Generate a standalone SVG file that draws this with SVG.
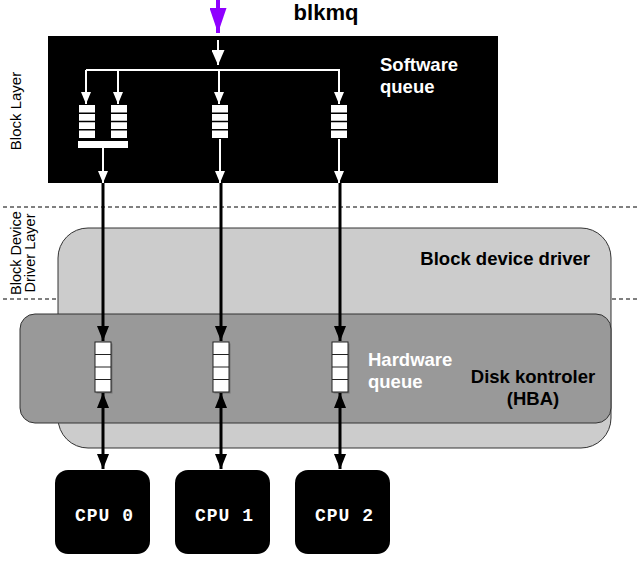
<svg xmlns="http://www.w3.org/2000/svg" width="639" height="564" viewBox="0 0 639 564">
<defs>
<style>
.lbl{font-family:"Liberation Sans",Arial,sans-serif;font-weight:bold;font-size:18.5px}
.side{font-family:"Liberation Sans",Arial,sans-serif;font-size:14.5px;fill:#000}
.cpu{font-family:"Liberation Mono","Courier New",monospace;font-weight:bold;font-size:18px;letter-spacing:1px;fill:#fff}
.dash{stroke:#000;stroke-width:1;stroke-dasharray:4 3}
.wline{stroke:#fff;stroke-width:2;fill:none}
.bline{stroke:#000;stroke-width:3;fill:none}
</style>
<marker id="wab" viewBox="0 0 10 10" refX="10" refY="5" markerWidth="12" markerHeight="10" preserveAspectRatio="none" orient="auto" markerUnits="userSpaceOnUse"><path d="M0,0 L10,5 L0,10 z" fill="#fff"/></marker>
<marker id="wat" viewBox="0 0 10 10" refX="10" refY="5" markerWidth="15" markerHeight="13" preserveAspectRatio="none" orient="auto" markerUnits="userSpaceOnUse"><path d="M0,0 L10,5 L0,10 z" fill="#fff"/></marker>
<marker id="ba" viewBox="0 0 10 10" refX="10" refY="5" markerWidth="15" markerHeight="12" preserveAspectRatio="none" orient="auto" markerUnits="userSpaceOnUse"><path d="M0,0 L10,5 L0,10 z" fill="#000"/></marker>
<marker id="bas" viewBox="0 0 10 10" refX="10" refY="5" markerWidth="15" markerHeight="12" preserveAspectRatio="none" orient="auto-start-reverse" markerUnits="userSpaceOnUse"><path d="M0,0 L10,5 L0,10 z" fill="#000"/></marker>
<marker id="pa" viewBox="0 0 10 10" refX="10" refY="5" markerWidth="25" markerHeight="17" preserveAspectRatio="none" orient="auto" markerUnits="userSpaceOnUse"><path d="M0,0 L10,5 L0,10 z" fill="#8f00ff"/></marker>
<g id="swq"><rect x="0" y="0" width="16" height="33" fill="#fff"/><path d="M0,8.25H16M0,16.5H16M0,24.75H16" stroke="#000" stroke-width="1.5"/></g>
<g id="hwq"><rect x="1.5" y="1.5" width="16" height="50" fill="#555" opacity="0.5"/><rect x="0" y="0" width="16" height="50" fill="#fff" stroke="#222" stroke-width="1"/><path d="M0,12.5H16M0,25H16M0,37.5H16" stroke="#222" stroke-width="1"/></g>
</defs>
<rect width="639" height="564" fill="#fff"/>

<g id="dividers">
<line class="dash" x1="3" y1="207" x2="639" y2="207"/>
<line class="dash" x1="3" y1="299" x2="639" y2="299"/>
</g>
<g id="layer-labels">
<text class="side" transform="translate(21,111) rotate(-90)" text-anchor="middle" style="font-size:15px">Block Layer</text>
<text class="side" transform="translate(21,253) rotate(-90)" text-anchor="middle">Block Device</text>
<text class="side" transform="translate(35,253) rotate(-90)" text-anchor="middle">Driver Layer</text>
</g>

<g id="block-device-driver">
<rect x="58" y="228" width="553" height="220" rx="30" fill="#cccccc" stroke="#333" stroke-width="1"/>
<text class="lbl" x="590" y="265" text-anchor="end" fill="#000">Block device driver</text>
</g>

<g id="disk-controller">
<rect x="20" y="314" width="591" height="109" rx="15" fill="#999999" stroke="#333" stroke-width="1"/>
<text class="lbl" x="533" y="383" text-anchor="middle" fill="#000">Disk kontroler</text>
<text class="lbl" x="533" y="405" text-anchor="middle" fill="#000">(HBA)</text>
<text class="lbl" x="368" y="366" fill="#fff">Hardware</text>
<text class="lbl" x="368" y="388" fill="#fff">queue</text>
</g>

<g id="block-layer">
<rect x="48" y="36" width="450" height="147" fill="#000"/>
<text class="lbl" x="380" y="71" fill="#fff">Software</text>
<text class="lbl" x="380" y="93" fill="#fff">queue</text>
</g>

<g id="blkmq">
<text class="lbl" x="326" y="20" text-anchor="middle" fill="#000" style="font-size:22px">blkmq</text>
</g>

<g id="software-queues">
<use href="#swq" x="79" y="105"/>
<use href="#swq" x="111" y="105"/>
<use href="#swq" x="212" y="105"/>
<use href="#swq" x="331" y="105"/>
<rect x="78" y="141" width="50" height="7" fill="#fff"/>
</g>

<g id="hardware-queues">
<use href="#hwq" x="95" y="342"/>
<use href="#hwq" x="213" y="342"/>
<use href="#hwq" x="332" y="342"/>
</g>

<g id="cpu0"><rect x="55" y="470" width="95" height="84" rx="13" fill="#000"/><text class="cpu" x="75" y="521">CPU 0</text></g>
<g id="cpu1"><rect x="175" y="470" width="95" height="84" rx="13" fill="#000"/><text class="cpu" x="195" y="521">CPU 1</text></g>
<g id="cpu2"><rect x="295" y="470" width="95" height="84" rx="13" fill="#000"/><text class="cpu" x="315" y="521">CPU 2</text></g>

<g id="connectors">
<line x1="218" y1="0" x2="218" y2="33" stroke="#8f00ff" stroke-width="4" marker-end="url(#pa)"/>
<line class="wline" x1="218" y1="40" x2="218" y2="65" marker-end="url(#wat)"/>
<path class="wline" d="M86,70H340"/>
<line class="wline" x1="86" y1="70" x2="86" y2="104" marker-end="url(#wab)"/>
<line class="wline" x1="118" y1="70" x2="118" y2="104" marker-end="url(#wab)"/>
<line class="wline" x1="219" y1="70" x2="219" y2="104" marker-end="url(#wab)"/>
<line class="wline" x1="339" y1="70" x2="339" y2="104" marker-end="url(#wab)"/>
<line class="wline" x1="103" y1="148" x2="103" y2="183" marker-end="url(#wab)"/>
<line class="wline" x1="220" y1="139" x2="220" y2="183" marker-end="url(#wab)"/>
<line class="wline" x1="339" y1="139" x2="339" y2="183" marker-end="url(#wab)"/>
<line class="bline" x1="103" y1="183" x2="103" y2="341" marker-end="url(#ba)"/>
<line class="bline" x1="221" y1="183" x2="221" y2="341" marker-end="url(#ba)"/>
<line class="bline" x1="340" y1="183" x2="340" y2="341" marker-end="url(#ba)"/>
<line class="bline" x1="103" y1="393" x2="103" y2="469" marker-start="url(#bas)" marker-end="url(#ba)"/>
<line class="bline" x1="221" y1="393" x2="221" y2="469" marker-start="url(#bas)" marker-end="url(#ba)"/>
<line class="bline" x1="340" y1="393" x2="340" y2="469" marker-start="url(#bas)" marker-end="url(#ba)"/>
</g>
</svg>
